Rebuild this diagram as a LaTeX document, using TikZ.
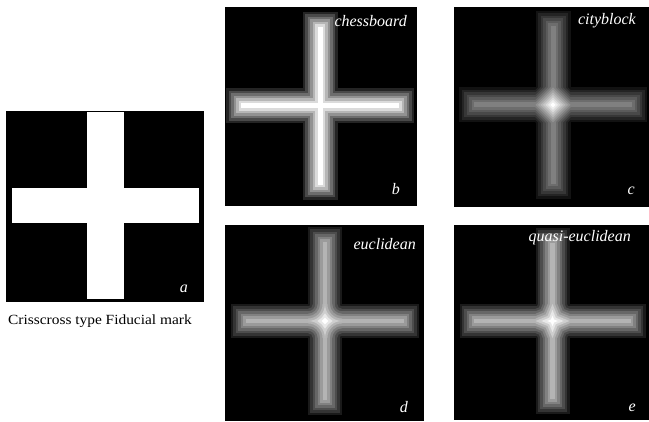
\documentclass[tikz,border=0pt]{standalone}
\usepackage{fontspec}
\setmainfont{Liberation Serif}
\begin{document}
\begin{tikzpicture}[x=1pt,y=1pt,
  panel/.style={fill=black},
  lbl/.style={text=white,font=\fontsize{16}{18}\selectfont\itshape,inner sep=0pt},
  caption/.style={text=black,font=\fontsize{14}{16}\selectfont,inner sep=0pt},
]
\useasboundingbox[fill=white] (0,0) rectangle (649,422);

% black panels
\fill[panel] (6,120) rectangle (204,311);
\fill[panel] (225,216) rectangle (417,415);
\fill[panel] (454,215) rectangle (649,415);
\fill[panel] (225,1) rectangle (424,197);
\fill[panel] (454,2) rectangle (649,197);

% (a) binary cross
\fill[white] (87,123) rectangle (124,310);
\fill[white] (12,199) rectangle (199,234);

% (b) chessboard distance: nested eroded crosses with square corners
\begin{scope}[shift={(320,316)}]
  \def\hw{17.5}\def\al{94}
  \foreach \k in {0,...,6}{
    \pgfmathsetmacro\tv{\k*\hw/7}
    \pgfmathsetmacro\gv{100*(\k+1)/7}
    \fill[white!\gv!black] (-\hw+\tv,-\al+\tv) rectangle (\hw-\tv,\al-\tv);
    \fill[white!\gv!black] (-\al+\tv,-\hw+\tv) rectangle (\al-\tv,\hw-\tv);
  }
\end{scope}

% (c) cityblock distance: eroded arms plus diamond around the centre
\begin{scope}[shift={(553,317)}]
  \def\hw{17.5}\def\al{94}
  \foreach \k in {0,...,6}{
    \pgfmathsetmacro\tv{\k*\hw/7}
    \pgfmathsetmacro\gv{100*(\k+1)/14}
    \pgfmathsetmacro\rv{2*\hw-\tv}
    \fill[white!\gv!black] (-\hw+\tv,-\al+\tv) rectangle (\hw-\tv,\al-\tv);
    \fill[white!\gv!black] (-\al+\tv,-\hw+\tv) rectangle (\al-\tv,\hw-\tv);
    \fill[white!\gv!black] (\rv,0) -- (0,\rv) -- (-\rv,0) -- (0,-\rv) -- cycle;
  }
  \foreach \k in {7,...,13}{
    \pgfmathsetmacro\tv{\k*\hw/7}
    \pgfmathsetmacro\gv{100*(\k+1)/14}
    \pgfmathsetmacro\rv{2*\hw-\tv}
    \fill[white!\gv!black] (\rv,0) -- (0,\rv) -- (-\rv,0) -- (0,-\rv) -- cycle;
  }
\end{scope}

% (d) euclidean distance: corners cut by circular arcs
\begin{scope}[shift={(325,101)}]
  \def\hw{17}\def\al{94}
  \pgfmathsetmacro\gv{100/(7*sqrt(2))}
  \fill[white!\gv!black] (-\hw,-\al) rectangle (\hw,\al);
  \fill[white!\gv!black] (-\al,-\hw) rectangle (\al,\hw);
  \foreach \k in {1,...,6}{
    \pgfmathsetmacro\tv{\k*\hw/7}
    \pgfmathsetmacro\gv{min(100,100*(\k+1)/(7*sqrt(2)))}
    \pgfmathsetmacro\sv{\hw-\tv}
    \fill[white!\gv!black] (-\hw+\tv,-\al+\tv) rectangle (\hw-\tv,\al-\tv);
    \fill[white!\gv!black] (-\al+\tv,-\hw+\tv) rectangle (\al-\tv,\hw-\tv);
    \fill[white!\gv!black] (\sv,\hw) -- (-\sv,\hw)
      arc[start angle=0,end angle=-90,radius=\tv] -- (-\hw,-\sv)
      arc[start angle=90,end angle=0,radius=\tv] -- (\sv,-\hw)
      arc[start angle=180,end angle=90,radius=\tv] -- (\hw,\sv)
      arc[start angle=270,end angle=180,radius=\tv] -- cycle;
  }
  \foreach \k in {7,8,9}{
    \pgfmathsetmacro\tv{\k*\hw/7}
    \pgfmathsetmacro\gv{min(100,100*(\k+1)/(7*sqrt(2)))}
    \pgfmathsetmacro\qv{sqrt(max(0,\tv*\tv-\hw*\hw))}
    \pgfmathsetmacro\av{\hw-\qv}
    \pgfmathsetmacro\ph{atan2(\hw,\qv)}
    \pgfmathsetmacro\aA{180+\ph}\pgfmathsetmacro\aB{270-\ph}
    \pgfmathsetmacro\aC{\ph-90}\pgfmathsetmacro\aD{-\ph}
    \pgfmathsetmacro\aE{90-\ph}
    \pgfmathsetmacro\aF{90+\ph}\pgfmathsetmacro\aG{180-\ph}
    \fill[white!\gv!black] (\av,0)
      arc[start angle=\aA,end angle=\aB,radius=\tv]
      arc[start angle=\aC,end angle=\aD,radius=\tv]
      arc[start angle=\ph,end angle=\aE,radius=\tv]
      arc[start angle=\aF,end angle=\aG,radius=\tv] -- cycle;
  }
\end{scope}

% (e) quasi-euclidean distance: corners cut by octagon edges
\begin{scope}[shift={(552.5,101)}]
  \def\hw{17}\def\al{93}
  \pgfmathsetmacro\gv{100/(7*sqrt(2))}
  \fill[white!\gv!black] (-\hw,-\al) rectangle (\hw,\al);
  \fill[white!\gv!black] (-\al,-\hw) rectangle (\al,\hw);
  \foreach \k in {1,...,6}{
    \pgfmathsetmacro\tv{\k*\hw/7}
    \pgfmathsetmacro\gv{min(100,100*(\k+1)/(7*sqrt(2)))}
    \pgfmathsetmacro\sv{\hw-\tv}
    \pgfmathsetmacro\cv{\tv/sqrt(2)}
    \fill[white!\gv!black] (-\hw+\tv,-\al+\tv) rectangle (\hw-\tv,\al-\tv);
    \fill[white!\gv!black] (-\al+\tv,-\hw+\tv) rectangle (\al-\tv,\hw-\tv);
    \fill[white!\gv!black] (\sv,\hw) -- (-\sv,\hw) -- (-\hw+\cv,\hw-\cv)
      -- (-\hw,\sv) -- (-\hw,-\sv) -- (-\hw+\cv,-\hw+\cv)
      -- (-\sv,-\hw) -- (\sv,-\hw) -- (\hw-\cv,-\hw+\cv)
      -- (\hw,-\sv) -- (\hw,\sv) -- (\hw-\cv,\hw-\cv) -- cycle;
  }
  \foreach \k in {7,8,9}{
    \pgfmathsetmacro\tv{\k*\hw/7}
    \pgfmathsetmacro\gv{min(100,100*(\k+1)/(7*sqrt(2)))}
    \pgfmathsetmacro\cv{\tv/sqrt(2)}
    \pgfmathsetmacro\dv{\hw-\cv}
    \pgfmathsetmacro\uv{(\hw-\cv)/(\tv-\cv)}
    \pgfmathsetmacro\av{\hw-\cv+\uv*\cv}
    \fill[white!\gv!black] (\av,0) -- (\dv,\dv) -- (0,\av) -- (-\dv,\dv)
      -- (-\av,0) -- (-\dv,-\dv) -- (0,-\av) -- (\dv,-\dv) -- cycle;
  }
\end{scope}

% panel titles and letters
\node[lbl,anchor=base east] (tb) at (407,395) {chessboard};
\node[lbl,anchor=base east] (tc) at (636,397) {cityblock};
\node[lbl,anchor=base east] (td) at (416,172) {euclidean};
\node[lbl,anchor=base east] (te) at (631,180) {quasi-euclidean};
\node[lbl,anchor=base east] (la) at (188,129) {a};
\node[lbl,anchor=base east] (lb) at (400,227) {b};
\node[lbl,anchor=base east] (lc) at (635,227) {c};
\node[lbl,anchor=base east] (ld) at (408,9) {d};
\node[lbl,anchor=base east] (le) at (636,10) {e};

% caption under (a)
\node[caption,anchor=base west] (cap) at (8,97)
  {\scalebox{1.1}[1]{Crisscross type Fiducial mark}};
\end{tikzpicture}
\end{document}
